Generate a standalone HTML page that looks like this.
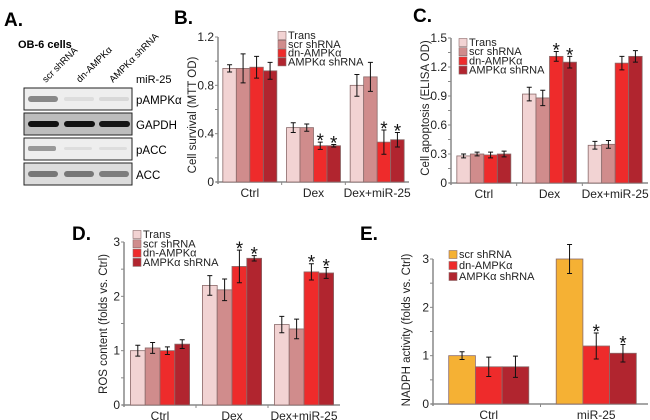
<!DOCTYPE html>
<html><head><meta charset="utf-8"><style>
body{margin:0;background:#fff}
svg{display:block;font-family:"Liberation Sans",Arial,sans-serif}
</style></head><body>
<svg id="fig" width="650" height="420" viewBox="0 0 650 420">
<g>
<text x="4" y="26" font-size="19" font-weight="bold">A.</text>
<text x="18" y="48" font-size="11" font-weight="bold">OB-6 cells</text>
<text transform="translate(46,83) rotate(-45)" font-size="9.5">scr shRNA</text>
<text transform="translate(80,83) rotate(-45)" font-size="9.5">dn-AMPKα</text>
<text transform="translate(113,83) rotate(-45)" font-size="9.5">AMPKα shRNA</text>
<text x="136" y="83" font-size="11">miR-25</text>
<rect x="24" y="88" width="108" height="22" fill="#eeeeee" stroke="#222"/>
<rect x="28" y="96" width="30" height="6" rx="3" fill="#888"/>
<rect x="64" y="97" width="30" height="4" rx="2" fill="#ddd"/>
<rect x="99" y="97" width="30" height="4" rx="2" fill="#d8d8d8"/>
<rect x="24" y="113" width="108" height="22" fill="#bdbdbd" stroke="#222"/>
<rect x="28" y="121" width="31" height="6" rx="3" fill="#111"/>
<rect x="64" y="121" width="31" height="6" rx="3" fill="#111"/>
<rect x="99" y="121" width="31" height="6" rx="3" fill="#161616"/>
<rect x="24" y="138" width="108" height="22" fill="#eeeeee" stroke="#222"/>
<rect x="28" y="146" width="28" height="5" rx="2" fill="#999"/>
<rect x="64" y="147" width="28" height="3" rx="2" fill="#ddd"/>
<rect x="99" y="147" width="28" height="3" rx="2" fill="#ddd"/>
<rect x="24" y="163" width="108" height="22" fill="#dcdcdc" stroke="#222"/>
<rect x="28" y="171" width="30" height="6" rx="3" fill="#777"/>
<rect x="64" y="171" width="30" height="6" rx="3" fill="#777"/>
<rect x="99" y="171" width="30" height="6" rx="3" fill="#7d7d7d"/>
<text x="136" y="104" font-size="11.5">pAMPKα</text>
<text x="136" y="129" font-size="11.5">GAPDH</text>
<text x="136" y="154" font-size="11.5">pACC</text>
<text x="136" y="179" font-size="11.5">ACC</text>
</g>
<text x="174" y="24" font-size="19" font-weight="bold">B.</text>
<text x="413" y="22" font-size="19" font-weight="bold">C.</text>
<text x="72" y="240" font-size="19" font-weight="bold">D.</text>
<text x="360" y="240" font-size="19" font-weight="bold">E.</text>
</svg>
<script>
const seriesNames4 = ["Trans","scr shRNA","dn-AMPKα","AMPKα shRNA"];
const colors4 = ["#f2d3d3","#d08c8c","#ee2b2b","#b1252f"];
const groupsBCD = ["Ctrl","Dex","Dex+miR-25"];
const bVals = [[0.94,0.94,0.95,0.92],[0.45,0.45,0.30,0.30],[0.80,0.87,0.33,0.35]];
const bErr = [[0.03,0.12,0.09,0.07],[0.04,0.03,0.03,0.01],[0.09,0.12,0.10,0.06]];
const bStars = [[0,0,0,0],[0,0,1,1],[0,0,1,1]];
const bTicks = ["0","0.4","0.8","1.2"];
const cVals = [[0.28,0.30,0.29,0.30],[0.92,0.88,1.31,1.25],[0.39,0.40,1.24,1.31]];
const cErr = [[0.02,0.02,0.03,0.03],[0.07,0.08,0.05,0.06],[0.04,0.04,0.07,0.06]];
const cStars = [[0,0,0,0],[0,0,1,1],[0,0,0,0]];
const cTicks = ["0","0.3","0.6","0.9","1.2","1.5"];
const dVals = [[1.0,1.05,1.0,1.12],[2.2,2.12,2.55,2.7],[1.48,1.4,2.45,2.43]];
const dErr = [[0.1,0.1,0.07,0.08],[0.18,0.2,0.3,0.05],[0.15,0.18,0.15,0.1]];
const dStars = [[0,0,0,0],[0,0,1,1],[0,0,1,1]];
const dTicks = ["0","1","2","3"];
const seriesNames3 = ["scr shRNA","dn-AMPKα","AMPKα shRNA"];
const colors3 = ["#f5b134","#ee2b2b","#b1252f"];
const groupsE = ["Ctrl","miR-25"];
const eVals = [[1.0,0.77,0.77],[3.0,1.2,1.05]];
const eErr = [[0.08,0.2,0.22],[0.3,0.27,0.18]];
const eStars = [[0,0,0],[0,1,1]];
const eTicks = ["0","1","2","3"];

const NS="http://www.w3.org/2000/svg";
const svg=document.getElementById('fig');
function mk(tag,attrs,parent){const e=document.createElementNS(NS,tag);for(const k in attrs)e.setAttribute(k,attrs[k]);(parent||svg).appendChild(e);return e;}

function chart(o){
  const g=mk('g',{});
  
  
  const ymax=o.ymax;
  const yS=v=>o.y0-(v/ymax)*(o.y0-o.y1);
  const band=(o.x1-o.x0)/o.groups.length;
  const ax=mk('line',{x1:o.x0,y1:o.y1,x2:o.x0,y2:o.y0+2,stroke:'#888','stroke-width':1.5},g);
  
  
  for(let v=0;v<=ymax+1e-9;v+=o.minor){
    const t=mk('line',{x1:o.x0-3,x2:o.x0,y1:yS(v),y2:yS(v),stroke:'#888'},g);
    
    
  }
  o.ticks.forEach((lab,i)=>{
    const v=parseFloat(lab);
    const t=mk('text',{x:o.x0-4,y:yS(v)+4,'font-size':12,'text-anchor':'end',fill:'#222'},g);
    t.textContent=lab;
    
    
  });
  const xa=mk('line',{x1:o.x0-2,y1:o.y0,x2:o.x1,y2:o.y0,stroke:'#888','stroke-width':1.5},g);
  
  
  for(let i=1;i<o.groups.length;i++){
    const t=mk('line',{x1:o.x0+band*i,x2:o.x0+band*i,y1:o.y0,y2:o.y0+3,stroke:'#888'},g);
    
    
  }
  const yt=mk('text',{transform:`translate(${o.ytx},${o.ytc}) rotate(-90)`,'font-size':11.5,'text-anchor':'middle',fill:'#222'},g);
  yt.textContent=o.ytitle;
  
  
  const n=o.colors.length;
  o.groups.forEach((gn,gi)=>{
    const cx=o.x0+o.off+band*(gi+0.5);
    const lab=mk('text',{x:cx,y:o.y0+15,'font-size':12,'text-anchor':'middle',fill:'#222'},g);
    lab.textContent=gn;
    
    
    for(let s=0;s<n;s++){
      const v=o.vals[gi][s],e=o.err[gi][s];
      const bx=cx-n*o.bw/2+s*o.bw;
      const r=mk('rect',{x:bx,y:yS(v),width:o.bw,height:o.y0-yS(v),fill:o.colors[s],stroke:'#8a6a6a','stroke-width':0.8},g);
      
      
      const mx=bx+o.bw/2;
      const eb=mk('path',{d:`M${mx},${yS(v-e)}V${yS(v+e)}M${mx-2.5},${yS(v-e)}h5M${mx-2.5},${yS(v+e)}h5`,stroke:'#111','stroke-width':1,fill:'none'},g);
      
      
      if(o.stars[gi][s]){
        const st=mk('text',{x:mx,y:yS(v+e)+5,'font-size':19,'text-anchor':'middle',fill:'#111'},g);
        st.textContent='*';
        
        
      }
    }
  });
  o.names.forEach((nm,i)=>{
    const y=o.ly+i*o.lstep;
    const sw=mk('rect',{x:o.lx,y:y-7.5,width:8,height:8,fill:o.colors[i],stroke:'#8a6a6a','stroke-width':0.6},g);
    
    
    const t=mk('text',{x:o.lx+10,y:y,'font-size':11,fill:'#222'},g);
    t.textContent=nm;
    
    
  });
}
chart({name:'panel-b-chart',x0:218,x1:409,off:0,y0:182,y1:37,ymax:1.2,minor:0.2,ticks:bTicks,groups:groupsBCD,vals:bVals,err:bErr,stars:bStars,colors:colors4,names:seriesNames4,bw:13.5,ytx:196,ytc:115,ytitle:'Cell survival (MTT OD)',lx:278,ly:39,lstep:8.8});
chart({name:'panel-c-chart',x0:451,x1:648,off:0,y0:183,y1:38,ymax:1.5,minor:0.15,ticks:cTicks,groups:groupsBCD,vals:cVals,err:cErr,stars:cStars,colors:colors4,names:seriesNames4,bw:13.5,ytx:429,ytc:108,ytitle:'Cell apoptosis (ELISA OD)',lx:459,ly:46,lstep:9.2});
chart({name:'panel-d-chart',x0:124,x1:340,off:0,y0:405,y1:242,ymax:3,minor:0.5,ticks:dTicks,groups:groupsBCD,vals:dVals,err:dErr,stars:dStars,colors:colors4,names:seriesNames4,bw:14.8,ytx:107,ytc:324,ytitle:'ROS content (folds vs. Ctrl)',lx:133,ly:238,lstep:9.3});
chart({name:'panel-e-chart',x0:433,x1:648,off:2,y0:404,y1:259,ymax:3,minor:0.5,ticks:eTicks,groups:groupsE,vals:eVals,err:eErr,stars:eStars,colors:colors3,names:seriesNames3,bw:26.7,ytx:410,ytc:330,ytitle:'NADPH activity (folds vs. Ctrl)',lx:449,ly:258,lstep:11});
</script>
</body></html>
